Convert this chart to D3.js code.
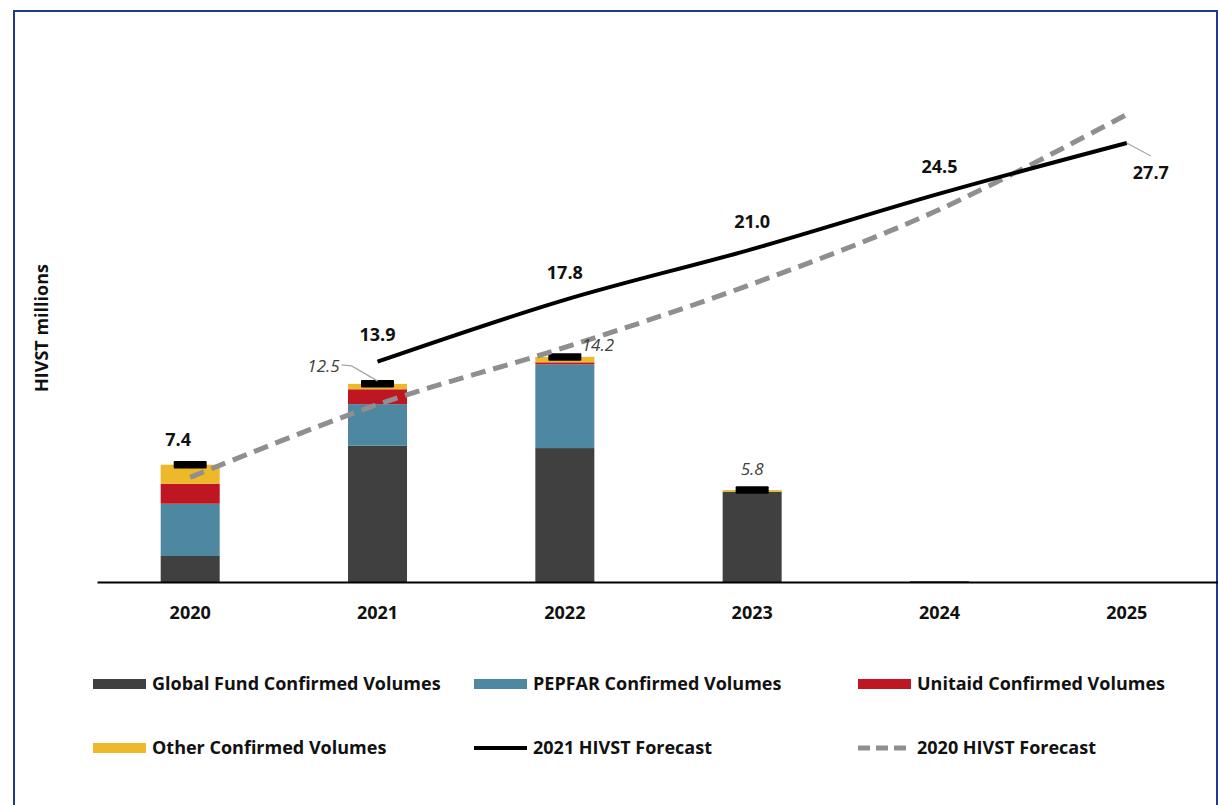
<!DOCTYPE html>
<html>
<head>
<meta charset="utf-8">
<script src="https://cdn.jsdelivr.net/npm/d3@7"></script>
<style>
    html, body { margin: 0; padding: 0; background: #fff; }
    svg { display: block; font-family: "Open Sans", "Noto Sans", sans-serif; }
</style>
</head>
<body>
<svg id="chart" width="1218" height="805"></svg>
<script>
// --- Data ---
const years = ['2020', '2021', '2022', '2023', '2024', '2025'];
const globalFund = [1.64, 8.6, 8.45, 5.7, 0.05, 0];
const pepfar = [3.3, 2.62, 5.28, 0, 0, 0];
const unitaid = [1.26, 0.94, 0.13, 0, 0, 0];
const other = [1.2, 0.34, 0.34, 0.1, 0, 0];
const totalLabels = ['7.4', '12.5', '14.2', '5.8', null, null];
const forecast2021 = [null, 13.9, 17.8, 21.0, 24.5, 27.7];
const forecast2020 = [6.6, 11.2, 14.8, 18.8, 23.5, 29.5];

const seriesNames = ['Global Fund Confirmed Volumes', 'PEPFAR Confirmed Volumes', 'Unitaid Confirmed Volumes', 'Other Confirmed Volumes'];
const seriesColors = ['#404040', '#4e87a0', '#be1622', '#eeb928'];

// --- Setup ---
const svg = d3.select('#chart');

// frame
svg.append('rect')
    .attr('x', 14).attr('y', 11)
    .attr('width', 1203).attr('height', 800)
    .attr('fill', 'none')
    .attr('stroke', '#1d3c8c')
    .attr('stroke-width', 2);

const x = d3.scaleBand()
    .domain(years)
    .range([97, 1220])
    .paddingInner(0.685)
    .paddingOuter(0.34);

const y = d3.scaleLinear().domain([0, 30]).range([582, 106.5]);

const cx = d => x(d) + x.bandwidth() / 2;

// stacked bars
const rows = years.map((yr, i) => ({
    year: yr,
    gf: globalFund[i], pepfar: pepfar[i], unitaid: unitaid[i], other: other[i]
}));
const stack = d3.stack().keys(['gf', 'pepfar', 'unitaid', 'other']);
const stacked = stack(rows);

svg.append('g')
    .selectAll('g')
    .data(stacked)
    .join('g')
    .attr('fill', (d, i) => seriesColors[i])
    .selectAll('rect')
    .data(d => d)
    .join('rect')
    .attr('x', d => x(d.data.year))
    .attr('width', x.bandwidth())
    .attr('y', d => y(d[1]))
    .attr('height', d => y(d[0]) - y(d[1]));

// total markers
const totals = rows.map(r => r.gf + r.pepfar + r.unitaid + r.other);
const labelled = years.map((yr, i) => ({ year: yr, total: totals[i], label: totalLabels[i] }))
    .filter(d => d.label);

svg.append('g')
    .selectAll('rect')
    .data(labelled)
    .join('rect')
    .attr('x', d => cx(d.year) - 16.5)
    .attr('width', 33)
    .attr('y', d => y(d.total) - 3.8)
    .attr('height', 7.5)
    .attr('rx', 1)
    .attr('fill', '#000');

// x axis
svg.append('g')
    .attr('transform', `translate(0,${y(0)})`)
    .call(d3.axisBottom(x).tickSize(0).tickPadding(24))
    .call(g => g.select('.domain').attr('stroke', '#000').attr('stroke-width', 2))
    .call(g => g.selectAll('text')
        .attr('fill', '#111')
        .style('font-size', '18px')
        .style('font-weight', 700)
        .style('font-family', '"Open Sans", sans-serif'));

// forecast lines
const pts2021 = years.map((yr, i) => ({ year: yr, v: forecast2021[i] })).filter(d => d.v != null);
const pts2020 = years.map((yr, i) => ({ year: yr, v: forecast2020[i] }));

const line = d3.line()
    .x(d => cx(d.year))
    .y(d => y(d.v))
    .curve(d3.curveCatmullRom.alpha(0.5));

svg.append('path')
    .datum(pts2020)
    .attr('fill', 'none')
    .attr('stroke', '#8f8f8f')
    .attr('stroke-width', 5)
    .attr('stroke-dasharray', '15 8')
    .attr('d', line);

svg.append('path')
    .datum(pts2021)
    .attr('fill', 'none')
    .attr('stroke', '#000')
    .attr('stroke-width', 4)
    .attr('d', line);

// forecast labels
svg.append('g')
    .selectAll('text')
    .data(pts2021)
    .join('text')
    .attr('x', (d, i) => i === pts2021.length - 1 ? cx(d.year) + 24 : cx(d.year))
    .attr('y', (d, i) => i === pts2021.length - 1 ? y(d.v) + 30 : y(d.v) - 27)
    .attr('dy', '0.35em')
    .attr('text-anchor', 'middle')
    .style('font-size', '18px')
    .style('font-weight', 700)
    .attr('fill', '#111')
    .text(d => d.v.toFixed(1));

// leader for last forecast label
const last = pts2021[pts2021.length - 1];
svg.append('path')
    .attr('d', `M${cx(last.year)},${y(last.v)} L${cx(last.year) + 24},${y(last.v) + 13}`)
    .attr('stroke', '#a6a6a6')
    .attr('stroke-width', 1.2)
    .attr('fill', 'none');

// bar total labels
const labelOffsets = {
    '2020': [-12, -25],
    '2021': [-54, -18],
    '2022': [33, -12],
    '2023': [0, -21]
};
svg.append('g')
    .selectAll('text')
    .data(labelled)
    .join('text')
    .attr('x', d => cx(d.year) + labelOffsets[d.year][0])
    .attr('y', d => y(d.total) + labelOffsets[d.year][1])
    .attr('dy', '0.35em')
    .attr('text-anchor', 'middle')
    .style('font-size', d => d.year === '2020' ? '18px' : '17px')
    .style('font-weight', d => d.year === '2020' ? 700 : 400)
    .style('font-style', d => d.year === '2020' ? 'normal' : 'italic')
    .attr('fill', d => d.year === '2020' ? '#111' : '#404040')
    .text(d => d.label);

// leader for 2021 label
const l21 = labelled.find(d => d.year === '2021');
svg.append('path')
    .attr('d', `M${cx('2021') - 36},${y(l21.total) - 19} L${cx('2021') - 26},${y(l21.total) - 18} L${cx('2021')},${y(l21.total) - 3}`)
    .attr('stroke', '#a6a6a6')
    .attr('stroke-width', 1.2)
    .attr('fill', 'none');

// y axis title
svg.append('text')
    .attr('transform', 'translate(42,328) rotate(-90)')
    .attr('dy', '0.35em')
    .attr('text-anchor', 'middle')
    .style('font-size', '18px')
    .style('font-weight', 700)
    .attr('fill', '#111')
    .text('HIVST millions');

// --- Legend ---
const legendItems = [
    { name: seriesNames[0], type: 'rect', color: seriesColors[0], col: 0, row: 0 },
    { name: seriesNames[1], type: 'rect', color: seriesColors[1], col: 1, row: 0 },
    { name: seriesNames[2], type: 'rect', color: seriesColors[2], col: 2, row: 0 },
    { name: seriesNames[3], type: 'rect', color: seriesColors[3], col: 0, row: 1 },
    { name: '2021 HIVST Forecast', type: 'line', color: '#000', col: 1, row: 1 },
    { name: '2020 HIVST Forecast', type: 'dash', color: '#8f8f8f', col: 2, row: 1 }
];
const colX = [93, 474, 858];
const rowY = [684, 748];

const legend = svg.append('g')
    .selectAll('g')
    .data(legendItems)
    .join('g')
    .attr('transform', d => `translate(${colX[d.col]},${rowY[d.row]})`);

legend.filter(d => d.type === 'rect')
    .append('rect')
    .attr('x', 0).attr('y', -5)
    .attr('width', 53).attr('height', 10)
    .attr('fill', d => d.color);

legend.filter(d => d.type !== 'rect')
    .append('line')
    .attr('x1', 0).attr('x2', 53)
    .attr('y1', 0).attr('y2', 0)
    .attr('stroke', d => d.color)
    .attr('stroke-width', d => d.type === 'line' ? 4 : 5)
    .attr('stroke-dasharray', d => d.type === 'dash' ? '12 6' : null);

legend.append('text')
    .attr('x', 59)
    .attr('dy', '0.35em')
    .style('font-size', '18px')
    .style('font-weight', 700)
    .attr('fill', '#111')
    .text(d => d.name);
</script>
</body>
</html>
